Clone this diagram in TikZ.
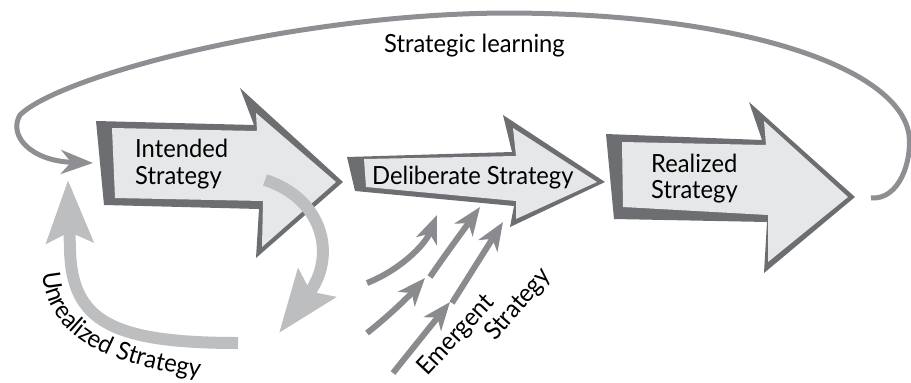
\documentclass[tikz,border=0pt]{standalone}
\usepackage{fontspec}
\setmainfont{Lato}[FakeStretch=0.95]
\usetikzlibrary{arrows.meta,decorations.text}
\definecolor{bordergray}{HTML}{6D6E71}
\definecolor{fillgray}{HTML}{E6E7E8}
\definecolor{learngray}{HTML}{8E8F92}
\definecolor{emergray}{HTML}{8A8B8E}
\definecolor{unrgray}{HTML}{BCBEC0}
\newcommand{\lblfont}{\fontsize{25}{28}\selectfont}
\begin{document}
\begin{tikzpicture}[x=1pt,y=-1pt,
  lbl/.style={font=\lblfont, inner sep=0pt, anchor=base west},
  outerpoly/.style={fill=bordergray},
  innerpoly/.style={fill=fillgray},
  learnline/.style={draw=learngray, line width=5pt, -{Stealth[length=32pt,width=24pt,inset=10pt]}},
  emline/.style={draw=emergray, line width=6pt, -{Stealth[length=28pt,width=22pt,inset=8pt]}},
  unrline/.style={draw=unrgray, line width=12pt, -{Stealth[length=62pt,width=46pt,inset=10pt]}}]
\useasboundingbox (0,0) rectangle (911,383);

% strategic learning loop
\coordinate (ls) at (871,198);
\coordinate (le) at (93,163);
\draw[learnline] (ls) .. controls (900,200) and (912,160) .. (909,135)
  .. controls (900,70) and (750,14) .. (510,13)
  .. controls (300,13) and (60,75) .. (20,115)
  .. controls (8,135) and (30,161) .. (le);
\node[lbl] (learn) at (384,52) {Strategic learning};

% Intended strategy arrow
\fill[outerpoly] (96,121) -- (254,125) -- (240,88) -- (343,182) -- (256,258) -- (259,209) -- (104,205) -- cycle;
\fill[innerpoly] (112,128) -- (257,131) -- (256,113) -- (336,182) -- (262,247) -- (263,201) -- (115,198) -- cycle;
\node[lbl] (int1) at (135,157) {Intended};
\node[lbl] (int2) at (135,184) {Strategy};

% Deliberate strategy arrow
\fill[outerpoly] (347,157) -- (512,152) -- (503,115) -- (605,182) -- (510,227) -- (514,206) -- (355,191) -- cycle;
\fill[innerpoly] (364,159) -- (516,156) -- (513,128) -- (597,182) -- (516,219) -- (516,201) -- (366,187) -- cycle;
\node[lbl] (delib) at (372,184) {Deliberate Strategy};

% Realized strategy arrow
\fill[outerpoly] (606,134) -- (762,140) -- (749,102) -- (855,197) -- (764,273) -- (767,222) -- (614,219) -- cycle;
\fill[innerpoly] (622,142) -- (766,145) -- (764,121) -- (848,197) -- (768,262) -- (768,215) -- (623,207) -- cycle;
\node[lbl] (real1) at (651,172) {Realized};
\node[lbl] (real2) at (651,198) {Strategy};

% unrealized strategy arrows
\coordinate (u1s) at (265,180);
\coordinate (u1e) at (279,333);
\draw[unrline] (u1s) .. controls (322,198) and (338,255) .. (u1e);
\coordinate (u2s) at (238,343);
\coordinate (u2e) at (68,180);
\draw[unrline] (u2s) .. controls (110,343) and (72,320) .. (70,250) -- (u2e);
\path[decorate, decoration={text along path, text align=left,
  text={|\lblfont|Unrealized Strategy}}] (43,273) .. controls (46,328) and (90,371) .. (250,382);

% emergent strategy arrows
\coordinate (a1) at (367,283); \coordinate (a2) at (437,215);
\coordinate (b1) at (367,333); \coordinate (b2) at (425,278);
\coordinate (c1) at (430,277); \coordinate (c2) at (480,207);
\coordinate (d1) at (393,373); \coordinate (d2) at (450,302);
\coordinate (e1) at (452,303); \coordinate (e2) at (503,222);
\draw[emline] (a1) .. controls (400,270) and (425,245) .. (a2);
\draw[emline] (b1) .. controls (390,315) and (410,295) .. (b2);
\draw[emline] (c1) .. controls (445,255) and (465,228) .. (c2);
\draw[emline] (d1) -- (d2);
\draw[emline] (e1) -- (e2);
\node[lbl, rotate=47] (em1) at (427,377) {Emergent};
\node[lbl, rotate=49] (em2) at (495,342) {Strategy};
\end{tikzpicture}
\end{document}
